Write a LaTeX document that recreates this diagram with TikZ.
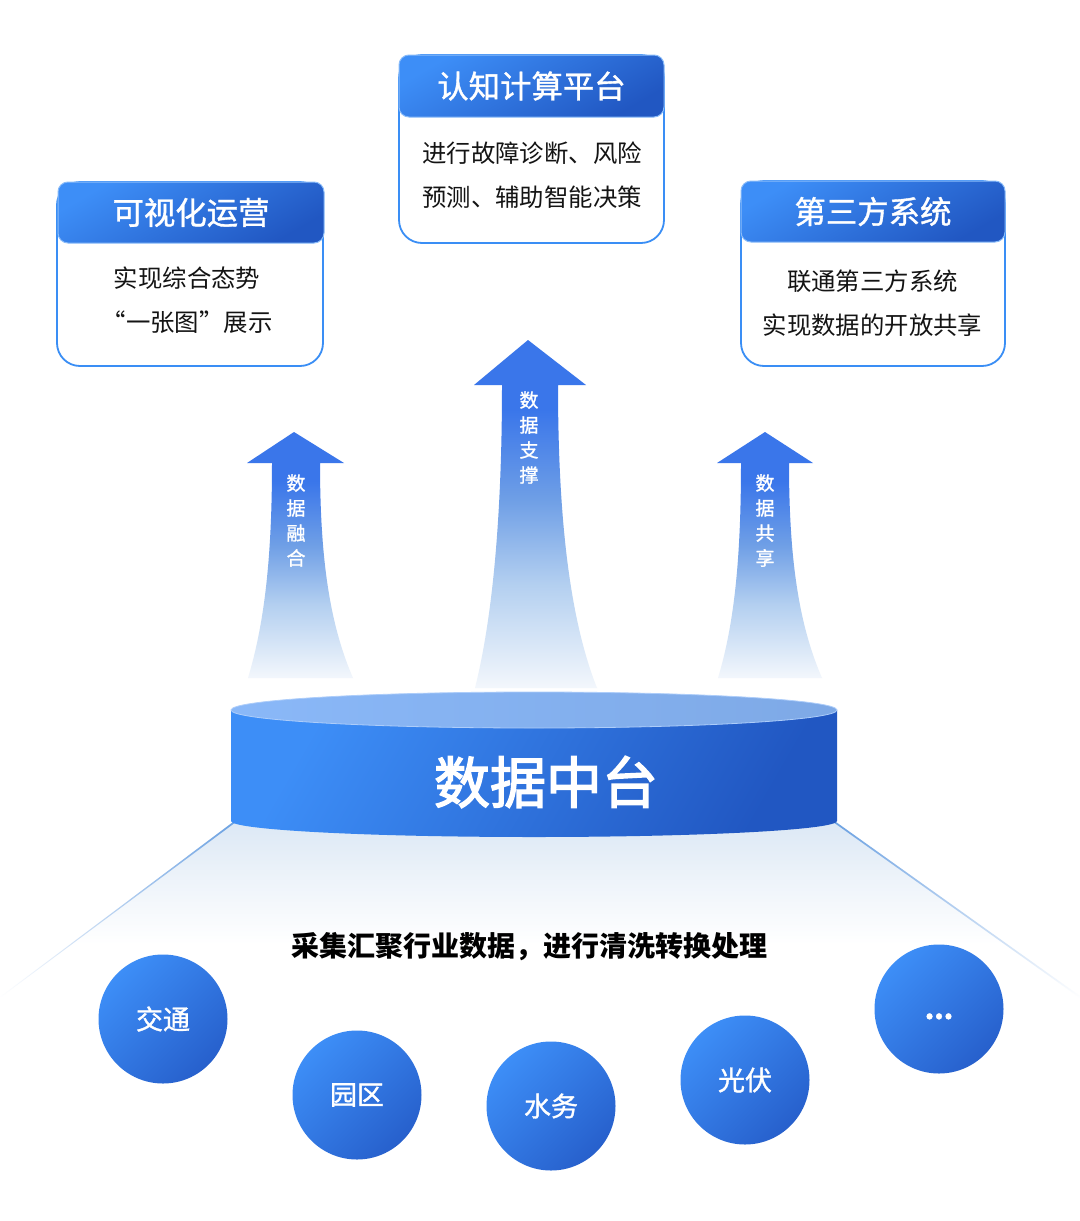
\documentclass[tikz,border=0pt]{standalone}
\usepackage{fontspec}
\setmainfont{Noto Sans CJK SC}
\newfontfamily\medfont[FakeBold=1.2]{Noto Sans CJK SC}
\newfontfamily\semifont[FakeBold=2.5]{Noto Sans CJK SC}
\definecolor{hdrL}{HTML}{3D8EF7}
\definecolor{hdrD}{HTML}{2157C2}
\definecolor{circD}{HTML}{2760CC}
\definecolor{bordercol}{HTML}{3A8EF5}
\definecolor{arrowblue}{HTML}{3A76EA}
\definecolor{fadeA}{HTML}{B3CFF0}
\definecolor{fadeB}{HTML}{6F9FE6}
\definecolor{fadeC}{HTML}{F3F7FC}
\definecolor{topL}{HTML}{8AB8F8}
\definecolor{topD}{HTML}{7EA9E6}
\definecolor{trapTop}{HTML}{DCE8F5}
\definecolor{trapMid}{HTML}{EEF4FA}
\definecolor{edgeblue}{HTML}{6DA2E2}
\pgfdeclareverticalshading{arrowfade}{100bp}{color(0bp)=(white); color(25bp)=(fadeC); color(40bp)=(fadeA); color(52bp)=(fadeB); color(65bp)=(arrowblue); color(100bp)=(arrowblue)}
\pgfdeclareverticalshading{trapfade}{100bp}{color(0bp)=(white); color(25bp)=(white); color(40bp)=(white); color(58bp)=(trapMid); color(75bp)=(trapTop); color(100bp)=(trapTop)}
\begin{document}
\begin{tikzpicture}[x=0.5pt,y=-0.5pt,
  boxbody/.style={draw=bordercol, line width=0.9pt, fill=white, rounded corners=11.5pt},
  hdrbox/.style={draw=bordercol!60!white, line width=0.5pt, rounded corners=5pt,
    top color=hdrL, bottom color=hdrD, shading angle=30, text=white,
    font=\medfont\fontsize{15.7pt}{18pt}\selectfont, inner sep=0pt},
  bodytxt/.style={font=\fontsize{12.2pt}{22pt}\selectfont, align=center, text=black!92, inner sep=0pt},
  arrowshape/.style={shade, shading=arrowfade},
  arrtxt/.style={text=white, font=\medfont\fontsize{9.5pt}{12.5pt}\selectfont, align=center, inner sep=0pt},
  edgestrip/.style={top color=edgeblue, bottom color=white},
  circ/.style={circle, minimum size=64.5pt, inner sep=0pt, top color=hdrL, bottom color=circD,
    shading angle=45, text=white, font=\medfont\fontsize{13.5pt}{15pt}\selectfont},
]
\path[use as bounding box, fill=white] (0,0) rectangle (1080,1221);

% ---------- funnel under the platform ----------
\path[shade, shading=trapfade] (234,822) -- (835,822) -- (1080,997) -- (0,997) -- cycle;
\path[edgestrip] (233,822) -- (236,822) -- (1,997) -- (0,997) -- cycle;
\path[edgestrip] (833,822) -- (836,822) -- (1080,996) -- (1080,998) -- cycle;

% ---------- arrows ----------
\path[arrowshape] (294,432) -- (344,463) -- (320,463)
  .. controls (320,560) and (330,625) .. (353,678) -- (248,678)
  .. controls (264,625) and (272,560) .. (272,463) -- (247,463) -- cycle;
\path[arrowshape] (528,340) -- (586,385) -- (558,385)
  .. controls (558,520) and (570,620) .. (597,688) -- (475,688)
  .. controls (492,620) and (502,520) .. (502,385) -- (474,385) -- cycle;
\path[arrowshape] (765,432) -- (813,463) -- (789,463)
  .. controls (789,560) and (799,625) .. (822,678) -- (718,678)
  .. controls (734,625) and (741,560) .. (741,463) -- (717,463) -- cycle;
\node[arrtxt] (aL) at (296,520.5) {数\\据\\融\\合};
\node[arrtxt] (aM) at (529,437.5) {数\\据\\支\\撑};
\node[arrtxt] (aR) at (765,520.5) {数\\据\\共\\享};

% ---------- top boxes ----------
\draw[boxbody] (57,182) rectangle (323,366);
\node[hdrbox, minimum width=133pt, minimum height=30.5pt] (hL) at (191,212.5) {可视化运营};
\node[bodytxt] (tL) at (187,300) {实现综合态势\\“一张图”展示};

\draw[boxbody] (399,55) rectangle (664,243);
\node[hdrbox, minimum width=132.5pt, minimum height=31pt] (hM) at (531.5,86) {认知计算平台};
\node[bodytxt] (tM) at (532,175) {进行故障诊断、风险\\预测、辅助智能决策};

\draw[boxbody] (741,181) rectangle (1005,366);
\node[hdrbox, minimum width=132pt, minimum height=30.5pt] (hR) at (873,211.5) {第三方系统};
\node[bodytxt] (tR) at (872.5,303) {联通第三方系统\\实现数据的开放共享};

% ---------- platform cylinder ----------
\path[top color=hdrL, bottom color=hdrD, shading angle=60]
  (231,710) -- (231,821) .. controls (231,829.8) and (366.6,837) .. (534,837)
  .. controls (701.4,837) and (837,829.8) .. (837,821) -- (837,710) -- cycle;
\path[left color=topL, right color=topD, draw=topL!70!white, line width=0.4pt]
  (534,710) ellipse [x radius=151.5pt, y radius=9pt];
\node[font=\semifont\fontsize{28pt}{30pt}\selectfont, text=white, inner sep=0pt] (dc) at (546,782) {数据中台};

% ---------- bottom text and sources ----------
\node[font=\fontsize{14pt}{16pt}\selectfont\bfseries, text=black, inner sep=0pt] (cap) at (529,947) {采集汇聚行业数据，进行清洗转换处理};
\node[circ] (c1) at (163,1019) {交通};
\node[circ] (c2) at (357,1095) {园区};
\node[circ] (c3) at (551,1106) {水务};
\node[circ] (c4) at (745,1080) {光伏};
\node[circ] (c5) at (939,1009) {\raisebox{-5pt}[0pt][0pt]{\bfseries ...}};
\end{tikzpicture}
\end{document}
